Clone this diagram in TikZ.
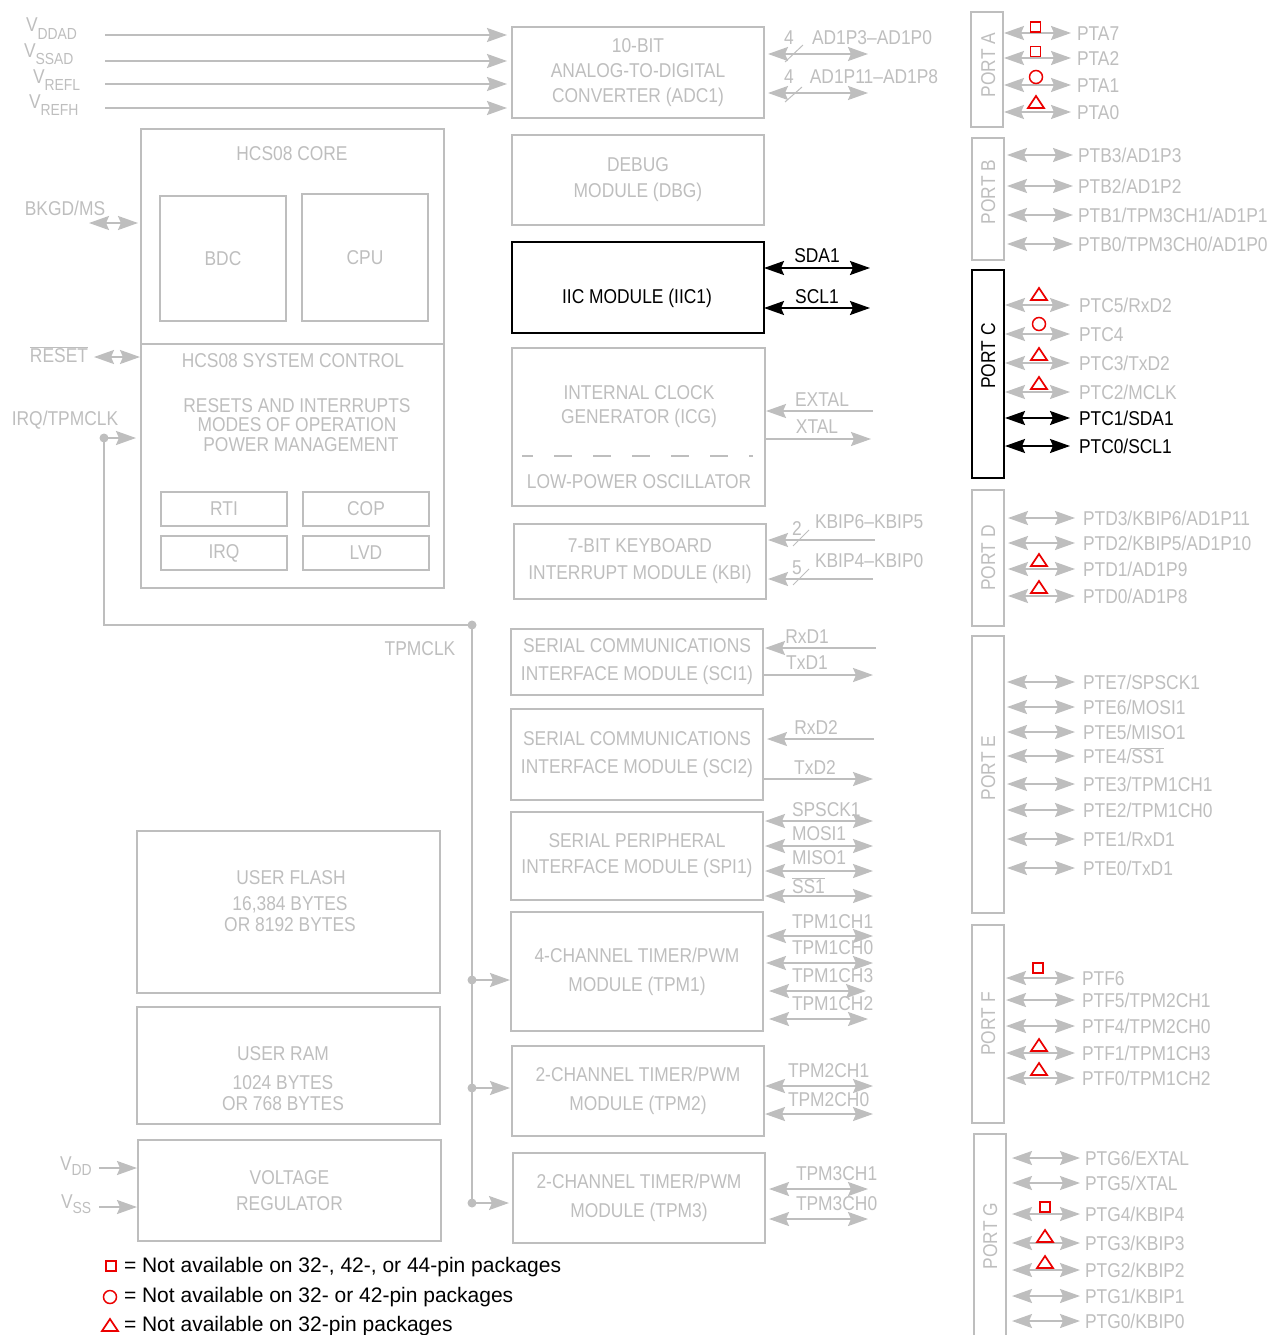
\documentclass[tikz,border=0pt]{standalone}
\usepackage{fontspec}
\setmainfont{Liberation Sans}
\newfontfamily\cf[FakeStretch=0.87]{Liberation Sans}
\usetikzlibrary{arrows.meta}
\definecolor{lg}{RGB}{190,190,190}
\definecolor{mk}{RGB}{235,0,0}
\newcommand\fs{\cf\fontsize{20}{26}\selectfont}
\newcommand\ovl[1]{$\overline{\mbox{#1}}$}
\newcommand\sbs[2]{\raisebox{-#1pt}{\fontsize{16}{17}\selectfont #2}}
\newcommand\prow[7]{%
  \node[t, anchor=west] (#2) at (#3,#4) {#5};
  \draw[bid, shorten <=#6pt, shorten >=#7pt] (#1.east |- #2.west) -- (#2.west);}
\newcommand\prowk[7]{%
  \node[t, anchor=west, text=black] (#2) at (#3,#4) {#5};
  \draw[bidk, shorten <=#6pt, shorten >=#7pt] (#1.east |- #2.west) -- (#2.west);}
\newcommand\msq[2]{\draw[mk, line width=1.8pt] (#1-5,#2-5) rectangle (#1+5,#2+5);}
\newcommand\mci[2]{\draw[mk, line width=1.5pt] (#1,#2) circle[radius=6.5pt];}
\newcommand\mtr[2]{\draw[mk, line width=1.7pt, line join=miter] (#1-8,#2) -- (#1+8,#2) -- (#1,#2-12) -- cycle;}
\begin{document}
\begin{tikzpicture}[x=1pt,y=-1pt,
  every node/.style={inner sep=0pt, outer sep=0pt, font=\fs, text=lg},
  t/.style={text height=14.3pt, text depth=0pt},
  gbox/.style={draw=lg, line width=2pt, anchor=north west, align=center},
  kbox/.style={draw=black, line width=2pt, anchor=north west},
  ln/.style={draw=lg, line width=2pt},
  sig/.style={ln, -{Stealth[length=20pt,width=14pt,inset=3pt]}},
  bid/.style={ln, {Stealth[length=20pt,width=14pt,inset=3pt]}-{Stealth[length=20pt,width=14pt,inset=3pt]}},
  bidk/.style={bid, draw=black},
  sl/.style={draw=lg, line width=1pt},
  dotc/.style={fill=lg, draw=none},
  lgd/.style={t, anchor=west, text=black, font=\fontsize{21}{24}\selectfont, text height=15pt}
]
\useasboundingbox (0,0) rectangle (1270,1335);

% ---------------- top-left supply inputs
\node[anchor=base west] (vddad) at (26,32) {V\sbs{8}{DDAD}};
\node[anchor=base west] (vssad) at (24,58) {V\sbs{7}{SSAD}};
\node[anchor=base west] (vrefl) at (33,84) {V\sbs{7}{REFL}};
\node[anchor=base west] (vrefh) at (29,109) {V\sbs{7}{REFH}};

% ---------------- central modules
\node[gbox, minimum width=252pt, minimum height=91pt, font=\cf\fontsize{20}{25}\selectfont] (adc) at (512,27) {10-BIT\\ANALOG-TO-DIGITAL\\CONVERTER (ADC1)};
\node[gbox, minimum width=252pt, minimum height=90pt] (dbg) at (512,135) {DEBUG\\MODULE (DBG)};
\node[kbox, minimum width=252pt, minimum height=91pt] (iic) at (512,242) {};
\node[t, text=black] (iicT) at (637,296) {IIC MODULE (IIC1)};
\node[gbox, minimum width=253pt, minimum height=158pt] (icg) at (512,348) {};
\node[t] (icgT1) at (639,392) {INTERNAL CLOCK};
\node[t] (icgT2) at (639,416) {GENERATOR (ICG)};
\node[t] (icgT3) at (639,481) {LOW-POWER OSCILLATOR};
\draw[draw=lg, line width=1.5pt, dash pattern=on 18pt off 21pt, dash phase=7pt] (icg.west |- 0,456) ++(10,0) -- (753,456);
\node[gbox, minimum width=252pt, minimum height=75pt, font=\cf\fontsize{20}{27}\selectfont] (kbi) at (514,524) {7-BIT KEYBOARD\\INTERRUPT MODULE (KBI)};
\node[gbox, minimum width=252pt, minimum height=66pt, font=\cf\fontsize{20}{28}\selectfont] (sci1) at (511,629) {SERIAL COMMUNICATIONS\\INTERFACE MODULE (SCI1)};
\node[gbox, minimum width=252pt, minimum height=91pt, font=\cf\fontsize{20}{28}\selectfont] (sci2) at (511,709) {SERIAL COMMUNICATIONS\\INTERFACE MODULE (SCI2)};
\node[gbox, minimum width=252pt, minimum height=88pt] (spi) at (511,812) {SERIAL PERIPHERAL\\INTERFACE MODULE (SPI1)};
\node[gbox, minimum width=252pt, minimum height=119pt, font=\cf\fontsize{20}{29}\selectfont] (tpm1) at (511,912) {4-CHANNEL TIMER/PWM\\MODULE (TPM1)};
\node[gbox, minimum width=252pt, minimum height=90pt, font=\cf\fontsize{20}{29}\selectfont] (tpm2) at (512,1046) {2-CHANNEL TIMER/PWM\\MODULE (TPM2)};
\node[gbox, minimum width=252pt, minimum height=90pt, font=\cf\fontsize{20}{29}\selectfont] (tpm3) at (513,1153) {2-CHANNEL TIMER/PWM\\MODULE (TPM3)};

% supply arrows into ADC
\draw[sig, shorten >=5pt] (105,35) -- (adc.west |- 0,35);
\draw[sig, shorten >=5pt] (105,61) -- (adc.west |- 0,61);
\draw[sig, shorten >=5pt] (105,84) -- (adc.west |- 0,84);
\draw[sig, shorten >=5pt] (105,108) -- (adc.west |- 0,108);

% ---------------- left core
\node[gbox, minimum width=303pt, minimum height=459pt] (core) at (141,129) {};
\draw[ln] (core.west |- 0,344) -- (core.east |- 0,344);
\node[t] (coreT) at (292,153) {HCS08 CORE};
\node[gbox, minimum width=126pt, minimum height=125pt] (bdc) at (160,196) {BDC};
\node[gbox, minimum width=126pt, minimum height=127pt] (cpu) at (302,194) {CPU};
\node[t] (sysT) at (293,360) {HCS08 SYSTEM CONTROL};
\node[t] (sys1) at (297,405) {RESETS AND INTERRUPTS};
\node[t] (sys2) at (297,424) {MODES OF OPERATION};
\node[t] (sys3) at (301,444) {POWER MANAGEMENT};
\node[gbox, minimum width=126pt, minimum height=34pt] (rti) at (161,492) {RTI};
\node[gbox, minimum width=126pt, minimum height=34pt] (cop) at (303,492) {COP};
\node[gbox, minimum width=126pt, minimum height=34pt] (irq) at (161,536) {IRQ};
\node[gbox, minimum width=126pt, minimum height=34pt] (lvd) at (303,536) {LVD};

\node[t] (bkgd) at (65,208) {BKGD/MS};
\draw[bid, shorten >=3pt] (89,223) -- (core.west |- 0,223);
\node[t] (rst) at (59,355) {\ovl{RESET}};
\draw[bid, shorten >=1pt] (94,357) -- (core.west |- 0,357);
\node[t] (irqT) at (65,418) {IRQ/TPMCLK};
\coordinate (irqd) at (104,438);
\draw[sig, shorten >=5pt] (irqd) -- (core.west |- irqd);
\coordinate (bus0) at (472,625);
\coordinate (bus1) at (472,980);
\coordinate (bus2) at (472,1088);
\coordinate (bus3) at (472,1203);
\draw[ln] (irqd) -- (irqd |- bus0) -- (bus0) -- (bus3);
\fill[dotc] (irqd) circle[radius=4.5pt];
\fill[dotc] (bus0) circle[radius=4.5pt];
\fill[dotc] (bus1) circle[radius=4.5pt];
\fill[dotc] (bus2) circle[radius=4.5pt];
\fill[dotc] (bus3) circle[radius=4.5pt];
\draw[sig, shorten >=1pt] (bus1) -- (tpm1.west |- bus1);
\draw[sig, shorten >=2pt] (bus2) -- (tpm2.west |- bus2);
\draw[sig, shorten >=4pt] (bus3) -- (tpm3.west |- bus3);
\node[t] (tpmclk) at (420,648) {TPMCLK};

% ---------------- memories and regulator
\node[gbox, minimum width=303pt, minimum height=162pt] (flash) at (137,831) {};
\node[t] (fl1) at (291,877) {USER FLASH};
\node[t] (fl2) at (290,903) {16,384 BYTES};
\node[t] (fl3) at (290,924) {OR 8192 BYTES};
\node[gbox, minimum width=303pt, minimum height=117pt] (ram) at (137,1007) {};
\node[t] (ra1) at (283,1053) {USER RAM};
\node[t] (ra2) at (283,1082) {1024 BYTES};
\node[t] (ra3) at (283,1103) {OR 768 BYTES};
\node[gbox, minimum width=303pt, minimum height=101pt] (vreg) at (138,1140) {VOLTAGE\\REGULATOR};
\node[anchor=base west] (vdd) at (60,1170) {V\sbs{5}{DD}};
\node[anchor=base west] (vss) at (61,1208) {V\sbs{5}{SS}};
\draw[sig, shorten >=1pt] (99,1168) -- (vreg.west |- 0,1168);
\draw[sig, shorten >=1pt] (99,1207) -- (vreg.west |- 0,1207);

% ---------------- module side signals
\node[t] (n4a) at (789,37) {4};
\node[t] (adA) at (872,37) {AD1P3–AD1P0};
\draw[bid, shorten <=4pt] (adc.east |- 0,54) -- (868,54);
\draw[sl] (785,62) -- (803,45);
\node[t] (n4b) at (789,76) {4};
\node[t] (adB) at (874,76) {AD1P11–AD1P8};
\draw[bid, shorten <=4pt] (adc.east |- 0,93) -- (868,93);
\draw[sl] (785,102) -- (802,87);

\node[t, text=black] (sdaL) at (817,255) {SDA1};
\draw[bidk] (iic.east |- 0,268) -- (870,268);
\node[t, text=black] (sclL) at (817,296) {SCL1};
\draw[bidk] (iic.east |- 0,308) -- (870,308);

\node[t] (extL) at (822,399) {EXTAL};
\draw[sig, shorten >=1pt] (873,411) -- (icg.east |- 0,411);
\node[t] (xtL) at (817,426) {XTAL};
\draw[sig] (icg.east |- 0,439) -- (871,439);

\node[t] (k2) at (797,528) {2};
\node[t, anchor=west] (kb1) at (815,521) {KBIP6–KBIP5};
\draw[sig, shorten >=2pt] (875,540) -- (kbi.east |- 0,540);
\draw[sl] (793,546) -- (809,530);
\node[t] (k5) at (797,567) {5};
\node[t, anchor=west] (kb2) at (815,560) {KBIP4–KBIP0};
\draw[sig, shorten >=2pt] (873,579) -- (kbi.east |- 0,579);
\draw[sl] (793,585) -- (809,569);

\node[t] (rx1) at (807,636) {RxD1};
\draw[sig, shorten >=2pt] (876,648) -- (sci1.east |- 0,648);
\node[t] (tx1) at (807,662) {TxD1};
\draw[sig] (sci1.east |- 0,675) -- (873,675);
\node[t] (rx2) at (816,727) {RxD2};
\draw[sig, line width=1.2pt, shorten >=4pt] (874,739) -- (sci2.east |- 0,739);
\node[t] (tx2) at (815,767) {TxD2};
\draw[sig] (sci2.east |- 0,779) -- (873,779);

\node[t, anchor=west] (spsck) at (792,809) {SPSCK1};
\node[t, anchor=west] (mosi) at (792,833) {MOSI1};
\node[t, anchor=west] (miso) at (792,857) {MISO1};
\node[t, anchor=west] (ss) at (792,886) {\ovl{SS1}};
\draw[bid, shorten <=2pt] (spi.east |- 0,821) -- (873,821);
\draw[bid, shorten <=2pt] (spi.east |- 0,846) -- (873,846);
\draw[bid, shorten <=2pt] (spi.east |- 0,871) -- (873,871);
\draw[bid, shorten <=2pt] (spi.east |- 0,896) -- (873,896);

\node[t, anchor=west] (t1c1) at (792,921) {TPM1CH1};
\node[t, anchor=west] (t1c0) at (792,947) {TPM1CH0};
\node[t, anchor=west] (t1c3) at (792,975) {TPM1CH3};
\node[t, anchor=west] (t1c2) at (792,1003) {TPM1CH2};
\draw[bid, shorten <=3pt] (tpm1.east |- 0,936) -- (873,936);
\draw[bid, shorten <=3pt] (tpm1.east |- 0,963) -- (873,963);
\draw[bid, shorten <=6pt] (tpm1.east |- 0,991) -- (866,991);
\draw[bid, shorten <=6pt] (tpm1.east |- 0,1019) -- (868,1019);

\node[t, anchor=west] (t2c1) at (788,1070) {TPM2CH1};
\node[t, anchor=west] (t2c0) at (788,1099) {TPM2CH0};
\draw[bid, shorten <=1pt] (tpm2.east |- 0,1086) -- (873,1086);
\draw[bid, shorten <=1pt] (tpm2.east |- 0,1114) -- (873,1114);

\node[t, anchor=west] (t3c1) at (796,1173) {TPM3CH1};
\node[t, anchor=west] (t3c0) at (796,1203) {TPM3CH0};
\draw[bid, shorten <=4pt] (tpm3.east |- 0,1189) -- (868,1189);
\draw[bid, shorten <=4pt] (tpm3.east |- 0,1219) -- (868,1219);

% ---------------- ports
\node[gbox, minimum width=32pt, minimum height=115pt] (pa) at (971,12) {};
\node[t, rotate=90] (paT) at (988,65) {PORT A};
\prow{pa}{pa7}{1077}{33}{PTA7}{1}{6}
\prow{pa}{pa2}{1077}{58}{PTA2}{1}{6}
\prow{pa}{pa1}{1077}{85}{PTA1}{1}{6}
\prow{pa}{pa0}{1077}{112}{PTA0}{1}{6}
\msq{1035.5}{27}
\msq{1035.5}{51.5}
\mci{1036}{77}
\mtr{1036}{108}

\node[gbox, minimum width=32pt, minimum height=122pt] (pb) at (972,138) {};
\node[t, rotate=90] (pbT) at (988,192) {PORT B};
\prow{pb}{pb3}{1078}{155}{PTB3/AD1P3}{3}{5}
\prow{pb}{pb2}{1078}{186}{PTB2/AD1P2}{3}{5}
\prow{pb}{pb1}{1078}{215}{PTB1/TPM3CH1/AD1P1}{3}{5}
\prow{pb}{pb0}{1078}{244}{PTB0/TPM3CH0/AD1P0}{3}{5}

\node[kbox, minimum width=32pt, minimum height=208pt] (pc) at (972,270) {};
\node[t, rotate=90, text=black] (pcT) at (988,356) {PORT C};
\prow{pc}{pc5}{1079}{305}{PTC5/RxD2}{1}{9}
\prow{pc}{pc4}{1079}{334}{PTC4}{1}{9}
\prow{pc}{pc3}{1079}{363}{PTC3/TxD2}{1}{9}
\prow{pc}{pc2}{1079}{392}{PTC2/MCLK}{1}{9}
\prowk{pc}{pc1}{1079}{418}{PTC1/SDA1}{1}{9}
\prowk{pc}{pc0}{1079}{446}{PTC0/SCL1}{1}{9}
\mtr{1039}{300}
\mci{1039}{324}
\mtr{1039}{360}
\mtr{1039}{389}

\node[gbox, minimum width=32pt, minimum height=136pt] (pd) at (972,490) {};
\node[t, rotate=90] (pdT) at (988,558) {PORT D};
\prow{pd}{pd3}{1083}{518}{PTD3/KBIP6/AD1P11}{4}{8}
\prow{pd}{pd2}{1083}{543}{PTD2/KBIP5/AD1P10}{4}{8}
\prow{pd}{pd1}{1083}{569}{PTD1/AD1P9}{4}{8}
\prow{pd}{pd0}{1083}{596}{PTD0/AD1P8}{4}{8}
\mtr{1039}{566}
\mtr{1039}{593}

\node[gbox, minimum width=32pt, minimum height=277pt] (pe) at (972,636) {};
\node[t, rotate=90] (peT) at (988,768) {PORT E};
\prow{pe}{pe7}{1083}{682}{PTE7/SPSCK1}{3}{8}
\prow{pe}{pe6}{1083}{707}{PTE6/MOSI1}{3}{8}
\prow{pe}{pe5}{1083}{732}{PTE5/MISO1}{3}{8}
\prow{pe}{pe4}{1083}{756}{PTE4/\ovl{SS1}}{3}{8}
\prow{pe}{pe3}{1083}{784}{PTE3/TPM1CH1}{3}{8}
\prow{pe}{pe2}{1083}{810}{PTE2/TPM1CH0}{3}{8}
\prow{pe}{pe1}{1083}{839}{PTE1/RxD1}{3}{8}
\prow{pe}{pe0}{1083}{868}{PTE0/TxD1}{3}{8}

\node[gbox, minimum width=32pt, minimum height=198pt] (pf) at (972,925) {};
\node[t, rotate=90] (pfT) at (988,1024) {PORT F};
\prow{pf}{pf6}{1082}{978}{PTF6}{2}{7}
\prow{pf}{pf5}{1082}{1000}{PTF5/TPM2CH1}{2}{7}
\prow{pf}{pf4}{1082}{1026}{PTF4/TPM2CH0}{2}{7}
\prow{pf}{pf1}{1082}{1053}{PTF1/TPM1CH3}{2}{7}
\prow{pf}{pf0}{1082}{1078}{PTF0/TPM1CH2}{2}{7}
\msq{1038}{968}
\mtr{1039}{1051}
\mtr{1039}{1075}

\node[gbox, minimum width=32pt, minimum height=215pt] (pg) at (974,1134) {};
\node[t, rotate=90] (pgT) at (990,1236) {PORT G};
\prow{pg}{pg6}{1085}{1158}{PTG6/EXTAL}{6}{5}
\prow{pg}{pg5}{1085}{1183}{PTG5/XTAL}{6}{5}
\prow{pg}{pg4}{1085}{1214}{PTG4/KBIP4}{6}{5}
\prow{pg}{pg3}{1085}{1243}{PTG3/KBIP3}{6}{5}
\prow{pg}{pg2}{1085}{1270}{PTG2/KBIP2}{6}{5}
\prow{pg}{pg1}{1085}{1296}{PTG1/KBIP1}{6}{5}
\prow{pg}{pg0}{1085}{1321}{PTG0/KBIP0}{6}{5}
\msq{1045}{1207}
\mtr{1045}{1242}
\mtr{1045}{1268}

% ---------------- legend
\msq{111}{1266}
\node[lgd] (lg1) at (124,1265) {= Not available on 32-, 42-, or 44-pin packages};
\mci{110}{1297}
\node[lgd] (lg2) at (124,1295) {= Not available on 32- or 42-pin packages};
\mtr{110}{1331}
\node[lgd] (lg3) at (124,1324) {= Not available on 32-pin packages};
\end{tikzpicture}
\end{document}
